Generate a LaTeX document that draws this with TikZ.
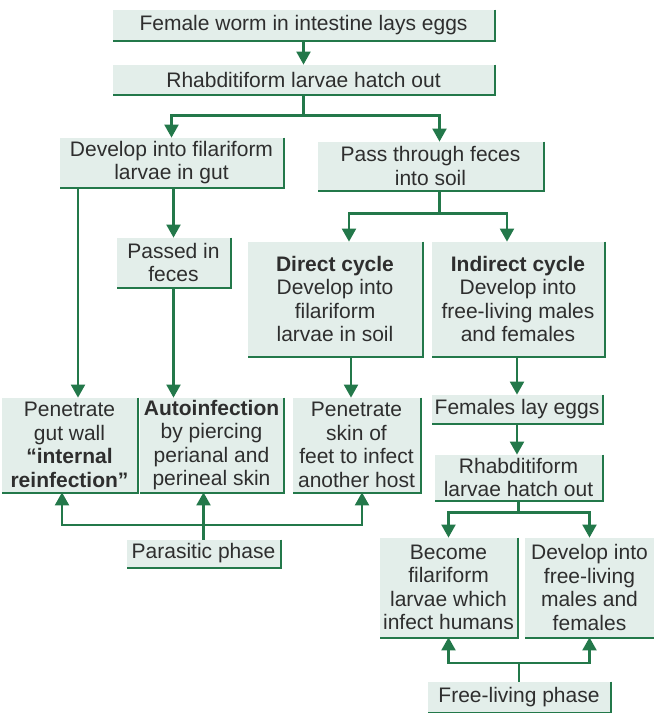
\documentclass[tikz,border=0pt]{standalone}
\usepackage{fontspec}
\setmainfont{Liberation Sans}
\usepackage{tikz}
\usetikzlibrary{arrows.meta,positioning}
\definecolor{sgreen}{HTML}{23784A}
\definecolor{sfill}{HTML}{E3EEEA}
\definecolor{stext}{HTML}{2E2E2E}
\tikzset{
  >={Triangle[length=6.5pt,width=7pt]},
  sedge/.style={draw=sgreen, line width=1.5pt},
  flow/.style={->, draw=sgreen, line width=1.1pt},
  stage/.style={fill=sfill, text=stext, align=center, inner sep=0pt,
                font=\fontsize{10.5}{11.75}\selectfont,
                append after command={\pgfextra{
                  \draw[sedge] (\tikzlastnode.north east)
                    -- (\tikzlastnode.south east) -- (\tikzlastnode.south west);}}},
}

\begin{document}
\begin{tikzpicture}[x=0.5pt,y=-0.5pt]
  \useasboundingbox (0,0) rectangle (654,713);

  % main line
  \node[stage, minimum width=190.5pt, minimum height=15pt]   (egg)   at (303.5,25)   {Female worm in intestine lays eggs};
  \node[stage, minimum width=190.5pt, minimum height=14.5pt] (hatch) at (303.5,79.5) {Rhabditiform larvae hatch out};
  \node[stage, minimum width=111.5pt, minimum height=24.5pt] (gut)   at (171.5,162.5) {Develop into filariform\\larvae in gut};
  \node[stage, minimum width=112.5pt, minimum height=24pt]   (soil)  at (430.5,166)   {Pass through feces\\into soil};
  \node[stage, minimum width=56.5pt, minimum height=24.5pt]  (feces) at (173.5,262.5) {Passed in\\feces};

  % cycles in soil
  \node[stage, minimum width=87pt, minimum height=57pt] (direct)   at (335,299) {\textbf{Direct cycle}\\Develop into\\filariform\\larvae in soil};
  \node[stage, minimum width=86pt, minimum height=57pt] (indirect) at (518,299) {\textbf{Indirect cycle}\\Develop into\\free-living males\\and females};

  % parasitic phase
  \node[stage, minimum width=67.5pt, minimum height=47pt] (wall) at (69.5,445)  {Penetrate\\gut wall\\\textbf{“internal}\\\textbf{reinfection”}};
  \node[stage, minimum width=71.5pt, minimum height=47pt] (auto) at (211.5,445) {\textbf{Autoinfection}\\by piercing\\perianal and\\perineal skin};
  \node[stage, minimum width=63.5pt, minimum height=47pt] (skin) at (356.5,445) {Penetrate\\skin of\\feet to infect\\another host};
  \node[stage, minimum width=76.5pt, minimum height=13.5pt] (parasitic) at (203.5,553.5) {Parasitic phase};

  % free-living phase
  \node[stage, minimum width=85pt, minimum height=14pt]     (lay)  at (517,409)   {Females lay eggs};
  \node[stage, minimum width=83.5pt, minimum height=22.5pt] (rhab) at (518.5,477.5) {Rhabditiform\\larvae hatch out};
  \node[stage, minimum width=68.5pt, minimum height=49.5pt] (become)     at (448.5,587.5) {Become\\filariform\\larvae which\\infect humans};
  \node[stage, minimum width=64.5pt, minimum height=49.5pt] (freeliving) at (589.5,587.5) {Develop into\\free-living\\males and\\females};
  \node[stage, minimum width=91pt, minimum height=15pt]     (freephase)  at (519,697)     {Free-living phase};

  % connectors
  \draw[flow] (egg) -- (hatch);
  \draw[flow] (hatch.south) -- ++(0,21) -| (gut.north);
  \draw[flow] (hatch.south) -- ++(0,21) -| ([xshift=4.5pt]soil.north);
  \draw[flow] (feces.north |- gut.south) -- (feces.north);
  \draw[flow] ([xshift=4.25pt]wall.north |- gut.south) -- ([xshift=4.25pt]wall.north);
  \draw[flow] (feces.south) -- (feces.south |- auto.north);
  \draw[flow] ([xshift=4.5pt]soil.south) -- ++(0,23) -| ([xshift=7pt]direct.north);
  \draw[flow] ([xshift=4.5pt]soil.south) -- ++(0,23) -| ([xshift=-5.5pt]indirect.north);
  \draw[flow] ([xshift=-2.75pt]skin.north |- direct.south) -- ([xshift=-2.75pt]skin.north);
  \draw[flow] (lay.north |- indirect.south) -- (lay.north);
  \draw[flow] (lay.south) -- (lay.south |- rhab.north);
  \draw[flow] (rhab.south) -- ++(0,12) -| (become.north);
  \draw[flow] (rhab.south) -- ++(0,12) -| (freeliving.north);

  \draw[flow] (parasitic.north) -- ++(0,-15) -| ([xshift=-3.75pt]wall.south);
  \draw[flow] (parasitic.north) -- (parasitic.north |- auto.south);
  \draw[flow] (parasitic.north) -- ++(0,-15) -| ([xshift=2.75pt]skin.south);
  \draw[flow] (freephase.north) -- ++(0,-19) -| (become.south);
  \draw[flow] (freephase.north) -- ++(0,-19) -| (freeliving.south);

\end{tikzpicture}
\end{document}
